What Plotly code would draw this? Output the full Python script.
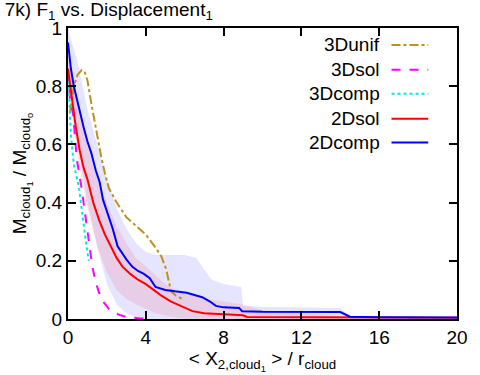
import plotly.graph_objects as go

# ---- data ----
unif_x = [0.1, 0.3, 0.5, 0.7, 0.85, 1.0, 1.2, 1.5, 1.7, 1.9, 2.1, 2.5, 3.0, 3.5, 4.0, 4.5, 4.8, 5.05, 5.2, 5.3, 5.55, 5.9]
unif_y = [0.71, 0.80, 0.84, 0.855, 0.85, 0.82, 0.74, 0.63, 0.56, 0.50, 0.45, 0.40, 0.35, 0.32, 0.29, 0.245, 0.215, 0.17, 0.12, 0.095, 0.08, 0.068]

sol3_x = [0, 0.1, 0.27, 0.45, 0.7, 0.9, 1.07, 1.25, 1.43, 1.6, 1.84, 2.1, 2.6, 3.0, 3.7, 4.0]
sol3_y = [0.85, 0.76, 0.70, 0.55, 0.45, 0.35, 0.26, 0.18, 0.125, 0.09, 0.057, 0.035, 0.015, 0.007, 0.002, 0.001]

comp3_x = [0, 0.08, 0.15, 0.3, 0.45, 0.56, 0.7, 0.82, 0.95, 1.07]
comp3_y = [0.86, 0.75, 0.63, 0.53, 0.48, 0.455, 0.38, 0.31, 0.25, 0.20]

sol2_x = [0, 0.2, 0.4, 0.6, 0.8, 1.0, 1.3, 1.6, 1.9, 2.2, 2.5, 2.8, 3.2, 3.6, 4.0, 4.4, 4.8, 5.3, 5.8, 6.4, 7.0, 7.9, 9.0, 9.2, 12, 16, 20]
sol2_y = [0.86, 0.75, 0.66, 0.58, 0.52, 0.48, 0.40, 0.34, 0.29, 0.25, 0.21, 0.18, 0.155, 0.135, 0.12, 0.10, 0.08, 0.06, 0.045, 0.027, 0.02, 0.016, 0.013, 0.007, 0.006, 0.005, 0.004]

comp2_x = [0, 0.15, 0.3, 0.5, 0.8, 1.0, 1.2, 1.43, 1.63, 1.8, 2.0, 2.3, 2.55, 2.8, 3.0, 3.3, 3.6, 3.9, 4.2, 4.5, 5.0, 5.5, 6.1, 6.9, 7.3, 7.6, 8.0, 8.8, 8.95, 10, 12, 14, 14.5, 16, 20]
comp2_y = [0.95, 0.86, 0.80, 0.74, 0.66, 0.61, 0.57, 0.51, 0.47, 0.41, 0.37, 0.31, 0.25, 0.225, 0.205, 0.18, 0.165, 0.155, 0.14, 0.11, 0.10, 0.095, 0.09, 0.075, 0.06, 0.045, 0.04, 0.038, 0.027, 0.025, 0.025, 0.024, 0.008, 0.006, 0.005]

band2c_x = [0, 0.5, 1, 1.5, 2, 2.5, 3, 3.5, 4, 4.5, 5, 6, 6.6, 7, 7.4, 8, 8.9, 9.0, 10, 12, 14, 14.5, 16]
band2c_hi = [1.0, 0.88, 0.72, 0.6, 0.48, 0.38, 0.31, 0.26, 0.23, 0.22, 0.22, 0.22, 0.21, 0.17, 0.135, 0.12, 0.11, 0.045, 0.042, 0.04, 0.038, 0.01, 0.005]
band2c_lo = [0.88, 0.6, 0.4, 0.25, 0.12, 0.05, 0.02, 0.005, 0, 0, 0, 0, 0, 0, 0, 0, 0, 0, 0, 0, 0, 0, 0]

band2s_x = [0, 0.5, 1, 1.5, 2, 2.5, 3, 3.5, 4, 4.5, 5, 5.5, 6, 7, 8, 9, 10, 12, 14]
band2s_hi = [0.9, 0.75, 0.6, 0.48, 0.4, 0.32, 0.26, 0.21, 0.18, 0.15, 0.12, 0.1, 0.09, 0.07, 0.06, 0.05, 0.03, 0.02, 0.01]
band2s_lo = [0.8, 0.55, 0.38, 0.25, 0.16, 0.1, 0.07, 0.05, 0.035, 0.02, 0.012, 0.005, 0.002, 0, 0, 0, 0, 0, 0]

x_ticks = [0, 4, 8, 12, 16, 20]
y_ticks = [0, 0.2, 0.4, 0.6, 0.8, 1]
y_tick_text = ["0", "0.2", "0.4", "0.6", "0.8", "1"]

names = ["3Dunif", "3Dsol", "3Dcomp", "2Dsol", "2Dcomp"]
colors = ["#c0901c", "#ff00ff", "#00e8e8", "#ff0000", "#0000ff"]
dashes = ["dashdot", "dash", "dot", "solid", "solid"]

FONT = "Liberation Sans, Arial, sans-serif"
FS = 19

fig = go.Figure()

# bands
fig.add_trace(go.Scatter(x=band2c_x, y=band2c_lo, mode="lines", line=dict(width=0), showlegend=False, hoverinfo="skip"))
fig.add_trace(go.Scatter(x=band2c_x, y=band2c_hi, mode="lines", line=dict(width=0), fill="tonexty",
                         fillcolor="rgba(0,0,255,0.10)", showlegend=False, hoverinfo="skip"))
fig.add_trace(go.Scatter(x=band2s_x, y=band2s_lo, mode="lines", line=dict(width=0), showlegend=False, hoverinfo="skip"))
fig.add_trace(go.Scatter(x=band2s_x, y=band2s_hi, mode="lines", line=dict(width=0), fill="tonexty",
                         fillcolor="rgba(255,0,0,0.10)", showlegend=False, hoverinfo="skip"))

series = [(unif_x, unif_y), (sol3_x, sol3_y), (comp3_x, comp3_y), (sol2_x, sol2_y), (comp2_x, comp2_y)]
for (sx, sy), n, c, d in zip(series, names, colors, dashes):
    fig.add_trace(go.Scatter(x=sx, y=sy, mode="lines", name=n,
                             line=dict(color=c, width=2, dash=d), showlegend=False))

# manual gnuplot-style legend (text left, sample right)
W, H = 392.0, 292.0
text_right = (384 - 68) / W
ln_x0 = (394 - 68) / W
ln_x1 = (431 - 68) / W
leg_y_px = [45, 70, 94, 119, 143]
annotations = []
shapes = []
for n, c, d, ypx in zip(names, colors, dashes, leg_y_px):
    yp = (320 - ypx) / H
    annotations.append(dict(x=text_right, y=yp, xref="paper", yref="paper", text=n, showarrow=False,
                            xanchor="right", yanchor="middle", font=dict(size=FS, color="black", family=FONT)))
    shapes.append(dict(type="line", xref="paper", yref="paper", x0=ln_x0, x1=ln_x1, y0=yp, y1=yp,
                       line=dict(color=c, width=2, dash=d)))

fig.update_layout(
    width=480, height=375,
    margin=dict(l=68, r=20, t=28, b=55),
    paper_bgcolor="white", plot_bgcolor="white",
    font=dict(family=FONT, size=FS, color="black"),
    title=dict(text="7k) F<sub>1</sub> vs. Displacement<sub>1</sub>", x=0.01, xref="container", xanchor="left",
               y=0.974, yref="container", yanchor="middle", font=dict(size=19, family=FONT)),
    annotations=annotations, shapes=shapes,
    xaxis=dict(range=[0, 20], tickvals=x_ticks, ticks="inside", ticklen=8, tickwidth=2, tickcolor="black",
               showline=True, linewidth=2, linecolor="black", mirror="allticks", showgrid=False, zeroline=False,
               title=dict(text="< X<sub>2,cloud<sub>1</sub></sub> > / r<sub>cloud</sub>", standoff=2,
                          font=dict(size=FS)),
               tickfont=dict(size=FS)),
    yaxis=dict(range=[0, 1], tickvals=y_ticks, ticktext=y_tick_text, ticks="inside", ticklen=8, tickwidth=2,
               tickcolor="black", showline=True, linewidth=2, linecolor="black", mirror="allticks",
               showgrid=False, zeroline=False,
               title=dict(text="M<sub>cloud<sub>1</sub></sub> / M<sub>cloud<sub>o</sub></sub>", standoff=4,
                          font=dict(size=FS)),
               tickfont=dict(size=FS)),
)

fig.write_html("out.html")
